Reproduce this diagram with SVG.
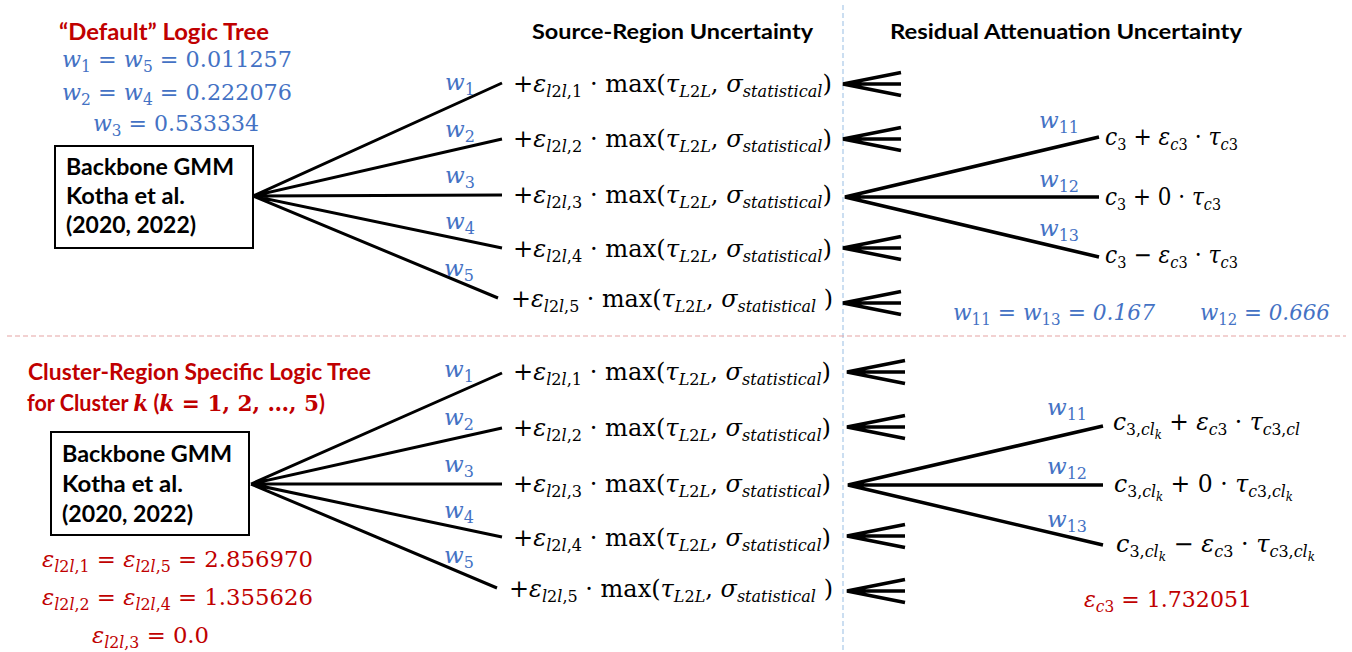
<svg xmlns="http://www.w3.org/2000/svg" width="1352" height="652" viewBox="0 0 1352 652">
<style>
.bg{fill:#fff}
.m{font-family:"DejaVu Serif","Liberation Serif",serif;font-size:24px;fill:#000}
.wb{font-family:"DejaVu Serif","Liberation Serif",serif;font-size:23px;fill:#4472C4}
.wl{font-family:"DejaVu Serif","Liberation Serif",serif;font-size:23px;fill:#4472C4}
.wr{font-family:"DejaVu Serif","Liberation Serif",serif;font-size:23px;fill:#C00000}
.i{font-style:italic}
.s{font-size:16px}
.ss{font-size:12px}
.h{font-family:Lato,"Open Sans","Liberation Sans",sans-serif;font-weight:700;font-size:21px;fill:#000}
.t{font-family:Lato,"Open Sans","Liberation Sans",sans-serif;font-weight:700;font-size:22px;fill:#C00000}
.bx{font-family:Lato,"Open Sans","Liberation Sans",sans-serif;font-weight:700;font-size:22px;fill:#000}
.box{fill:#fff;stroke:#000;stroke-width:2}
.br{stroke:#000;stroke-width:3;fill:none}
.fk{stroke:#000;stroke-width:3.5;fill:none;stroke-linejoin:miter}
.vd{stroke:#A9C8E8;stroke-width:1.2;stroke-dasharray:5 3}
.hd{stroke:#E6A3A3;stroke-width:1.2;stroke-dasharray:5 3}
.mb{font-family:"DejaVu Serif","Liberation Serif",serif;font-weight:700}
</style>
<defs>
<path id="fork" class="fk" d="M58,-11.5 L0,0 L58,11.5 M0,0 H58"/>
</defs>
<rect class="bg" x="0" y="0" width="1352" height="652"/>

<g id="separators">
<line class="vd" x1="843" y1="5" x2="843" y2="652"/>
<line class="hd" x1="7" y1="336" x2="1346" y2="336"/>
</g>

<g id="headers">
<text class="h" x="532" y="39" textLength="281" lengthAdjust="spacingAndGlyphs">Source-Region Uncertainty</text>
<text class="h" x="890" y="39" textLength="352" lengthAdjust="spacingAndGlyphs">Residual Attenuation Uncertainty</text>
</g>

<g id="connectors">
<path class="br" d="M253,196 L502,83 M253,196 L502,139 M253,196 L502,195 M253,196 L502,248 M253,196 L498,298"/>
<path class="br" d="M251,484 L502,373 M251,484 L502,428 M251,484 L502,484 M251,484 L502,537 M251,484 L497,588"/>
<use href="#fork" x="843" y="84"/>
<use href="#fork" x="843" y="139"/>
<use href="#fork" x="843" y="248"/>
<use href="#fork" x="843" y="303"/>
<use href="#fork" x="847" y="372"/>
<use href="#fork" x="847" y="427"/>
<use href="#fork" x="847" y="536"/>
<use href="#fork" x="847" y="591"/>
<path class="fk" d="M1099,137 L845,197 L1099,257 M845,197 H1099"/>
<path class="fk" d="M1103,426 L848,485 L1103,545 M848,485 H1103"/>
</g>

<g id="default-tree">
<text class="t" x="59" y="40" textLength="210" lengthAdjust="spacingAndGlyphs">“Default” Logic Tree</text>
<text class="wb" x="62" y="67" textLength="230" lengthAdjust="spacingAndGlyphs"><tspan class="i">w</tspan><tspan class="s" dy="5">1</tspan><tspan dy="-5"> = </tspan><tspan class="i">w</tspan><tspan class="s" dy="5">5</tspan><tspan dy="-5"> = 0.011257</tspan></text>
<text class="wb" x="62" y="100" textLength="230" lengthAdjust="spacingAndGlyphs"><tspan class="i">w</tspan><tspan class="s" dy="5">2</tspan><tspan dy="-5"> = </tspan><tspan class="i">w</tspan><tspan class="s" dy="5">4</tspan><tspan dy="-5"> = 0.222076</tspan></text>
<text class="wb" x="93" y="131" textLength="166" lengthAdjust="spacingAndGlyphs"><tspan class="i">w</tspan><tspan class="s" dy="5">3</tspan><tspan dy="-5"> = 0.533334</tspan></text>
</g>

<g id="backbone-default">
<rect class="box" x="55" y="146" width="198" height="102"/>
<text class="bx" x="66" y="175" textLength="168" lengthAdjust="spacingAndGlyphs">Backbone GMM</text>
<text class="bx" x="66" y="204" textLength="119" lengthAdjust="spacingAndGlyphs">Kotha et al.</text>
<text class="bx" x="66" y="233" textLength="130" lengthAdjust="spacingAndGlyphs">(2020, 2022)</text>
</g>

<g id="source-default">
<text class="wl i" x="445" y="90">w<tspan class="s" dy="5" font-style="normal">1</tspan></text>
<text class="wl i" x="445" y="137">w<tspan class="s" dy="5" font-style="normal">2</tspan></text>
<text class="wl i" x="445" y="183">w<tspan class="s" dy="5" font-style="normal">3</tspan></text>
<text class="wl i" x="445" y="229">w<tspan class="s" dy="5" font-style="normal">4</tspan></text>
<text class="wl i" x="444" y="276">w<tspan class="s" dy="5" font-style="normal">5</tspan></text>
<text class="m" x="513" y="92" textLength="319" lengthAdjust="spacingAndGlyphs">+<tspan class="i">ε</tspan><tspan class="s i" dy="5">l</tspan><tspan class="s">2</tspan><tspan class="s i">l</tspan><tspan class="s">,1</tspan><tspan dy="-5"> · max(</tspan><tspan class="i">τ</tspan><tspan class="s i" dy="5">L</tspan><tspan class="s">2</tspan><tspan class="s i">L</tspan><tspan dy="-5">, </tspan><tspan class="i">σ</tspan><tspan class="s i" dy="5">statistical</tspan><tspan dy="-5">)</tspan></text>
<text class="m" x="513" y="147" textLength="319" lengthAdjust="spacingAndGlyphs">+<tspan class="i">ε</tspan><tspan class="s i" dy="5">l</tspan><tspan class="s">2</tspan><tspan class="s i">l</tspan><tspan class="s">,2</tspan><tspan dy="-5"> · max(</tspan><tspan class="i">τ</tspan><tspan class="s i" dy="5">L</tspan><tspan class="s">2</tspan><tspan class="s i">L</tspan><tspan dy="-5">, </tspan><tspan class="i">σ</tspan><tspan class="s i" dy="5">statistical</tspan><tspan dy="-5">)</tspan></text>
<text class="m" x="513" y="203" textLength="319" lengthAdjust="spacingAndGlyphs">+<tspan class="i">ε</tspan><tspan class="s i" dy="5">l</tspan><tspan class="s">2</tspan><tspan class="s i">l</tspan><tspan class="s">,3</tspan><tspan dy="-5"> · max(</tspan><tspan class="i">τ</tspan><tspan class="s i" dy="5">L</tspan><tspan class="s">2</tspan><tspan class="s i">L</tspan><tspan dy="-5">, </tspan><tspan class="i">σ</tspan><tspan class="s i" dy="5">statistical</tspan><tspan dy="-5">)</tspan></text>
<text class="m" x="513" y="257" textLength="319" lengthAdjust="spacingAndGlyphs">+<tspan class="i">ε</tspan><tspan class="s i" dy="5">l</tspan><tspan class="s">2</tspan><tspan class="s i">l</tspan><tspan class="s">,4</tspan><tspan dy="-5"> · max(</tspan><tspan class="i">τ</tspan><tspan class="s i" dy="5">L</tspan><tspan class="s">2</tspan><tspan class="s i">L</tspan><tspan dy="-5">, </tspan><tspan class="i">σ</tspan><tspan class="s i" dy="5">statistical</tspan><tspan dy="-5">)</tspan></text>
<text class="m" x="511" y="307" textLength="322" lengthAdjust="spacingAndGlyphs">+<tspan class="i">ε</tspan><tspan class="s i" dy="5">l</tspan><tspan class="s">2</tspan><tspan class="s i">l</tspan><tspan class="s">,5</tspan><tspan dy="-5"> · max(</tspan><tspan class="i">τ</tspan><tspan class="s i" dy="5">L</tspan><tspan class="s">2</tspan><tspan class="s i">L</tspan><tspan dy="-5">, </tspan><tspan class="i">σ</tspan><tspan class="s i" dy="5">statistical</tspan><tspan dy="-5"> )</tspan></text>
</g>

<g id="residual-default">
<text class="wl i" x="1039" y="128">w<tspan class="s" dy="5" font-style="normal">11</tspan></text>
<text class="wl i" x="1039" y="187">w<tspan class="s" dy="5" font-style="normal">12</tspan></text>
<text class="wl i" x="1039" y="236">w<tspan class="s" dy="5" font-style="normal">13</tspan></text>
<text class="m" x="1105" y="145" textLength="133" lengthAdjust="spacingAndGlyphs"><tspan class="i">c</tspan><tspan class="s" dy="5">3</tspan><tspan dy="-5"> + </tspan><tspan class="i">ε</tspan><tspan class="s i" dy="5">c</tspan><tspan class="s">3</tspan><tspan dy="-5"> · </tspan><tspan class="i">τ</tspan><tspan class="s i" dy="5">c</tspan><tspan class="s">3</tspan></text>
<text class="m" x="1105" y="205" textLength="116" lengthAdjust="spacingAndGlyphs"><tspan class="i">c</tspan><tspan class="s" dy="5">3</tspan><tspan dy="-5"> + 0 · </tspan><tspan class="i">τ</tspan><tspan class="s i" dy="5">c</tspan><tspan class="s">3</tspan></text>
<text class="m" x="1105" y="263" textLength="133" lengthAdjust="spacingAndGlyphs"><tspan class="i">c</tspan><tspan class="s" dy="5">3</tspan><tspan dy="-5"> − </tspan><tspan class="i">ε</tspan><tspan class="s i" dy="5">c</tspan><tspan class="s">3</tspan><tspan dy="-5"> · </tspan><tspan class="i">τ</tspan><tspan class="s i" dy="5">c</tspan><tspan class="s">3</tspan></text>
<text class="wb" x="953" y="320" textLength="202" lengthAdjust="spacingAndGlyphs"><tspan class="i">w</tspan><tspan class="s" dy="5">11</tspan><tspan dy="-5"> = </tspan><tspan class="i">w</tspan><tspan class="s" dy="5">13</tspan><tspan dy="-5"> = </tspan><tspan class="i">0.167</tspan></text>
<text class="wb" x="1200" y="320" textLength="130" lengthAdjust="spacingAndGlyphs"><tspan class="i">w</tspan><tspan class="s" dy="5">12</tspan><tspan dy="-5"> = </tspan><tspan class="i">0.666</tspan></text>
</g>

<g id="cluster-tree">
<text class="t" x="28" y="380" textLength="343" lengthAdjust="spacingAndGlyphs">Cluster-Region Specific Logic Tree</text>
<text class="t" x="27" y="411" textLength="298" lengthAdjust="spacingAndGlyphs">for Cluster <tspan class="mb i">k</tspan> (<tspan class="mb i">k</tspan><tspan class="mb"> = 1, 2, …, 5</tspan>)</text>
</g>

<g id="backbone-cluster">
<rect class="box" x="51" y="432" width="198" height="103"/>
<text class="bx" x="62" y="462" textLength="170" lengthAdjust="spacingAndGlyphs">Backbone GMM</text>
<text class="bx" x="62" y="492" textLength="121" lengthAdjust="spacingAndGlyphs">Kotha et al.</text>
<text class="bx" x="62" y="522" textLength="131" lengthAdjust="spacingAndGlyphs">(2020, 2022)</text>
</g>

<g id="epsilon-values">
<text class="wr" x="42" y="567" textLength="271" lengthAdjust="spacingAndGlyphs"><tspan class="i">ε</tspan><tspan class="s i" dy="5">l</tspan><tspan class="s">2</tspan><tspan class="s i">l</tspan><tspan class="s">,1</tspan><tspan dy="-5"> = </tspan><tspan class="i">ε</tspan><tspan class="s i" dy="5">l</tspan><tspan class="s">2</tspan><tspan class="s i">l</tspan><tspan class="s">,5</tspan><tspan dy="-5"> = 2.856970</tspan></text>
<text class="wr" x="42" y="605" textLength="271" lengthAdjust="spacingAndGlyphs"><tspan class="i">ε</tspan><tspan class="s i" dy="5">l</tspan><tspan class="s">2</tspan><tspan class="s i">l</tspan><tspan class="s">,2</tspan><tspan dy="-5"> = </tspan><tspan class="i">ε</tspan><tspan class="s i" dy="5">l</tspan><tspan class="s">2</tspan><tspan class="s i">l</tspan><tspan class="s">,4</tspan><tspan dy="-5"> = 1.355626</tspan></text>
<text class="wr" x="92" y="643" textLength="117" lengthAdjust="spacingAndGlyphs"><tspan class="i">ε</tspan><tspan class="s i" dy="5">l</tspan><tspan class="s">2</tspan><tspan class="s i">l</tspan><tspan class="s">,3</tspan><tspan dy="-5"> = 0.0</tspan></text>
</g>

<g id="source-cluster">
<text class="wl i" x="444" y="377">w<tspan class="s" dy="5" font-style="normal">1</tspan></text>
<text class="wl i" x="444" y="425">w<tspan class="s" dy="5" font-style="normal">2</tspan></text>
<text class="wl i" x="444" y="472">w<tspan class="s" dy="5" font-style="normal">3</tspan></text>
<text class="wl i" x="444" y="518">w<tspan class="s" dy="5" font-style="normal">4</tspan></text>
<text class="wl i" x="444" y="563">w<tspan class="s" dy="5" font-style="normal">5</tspan></text>
<text class="m" x="513" y="380" textLength="318" lengthAdjust="spacingAndGlyphs">+<tspan class="i">ε</tspan><tspan class="s i" dy="5">l</tspan><tspan class="s">2</tspan><tspan class="s i">l</tspan><tspan class="s">,1</tspan><tspan dy="-5"> · max(</tspan><tspan class="i">τ</tspan><tspan class="s i" dy="5">L</tspan><tspan class="s">2</tspan><tspan class="s i">L</tspan><tspan dy="-5">, </tspan><tspan class="i">σ</tspan><tspan class="s i" dy="5">statistical</tspan><tspan dy="-5">)</tspan></text>
<text class="m" x="513" y="436" textLength="318" lengthAdjust="spacingAndGlyphs">+<tspan class="i">ε</tspan><tspan class="s i" dy="5">l</tspan><tspan class="s">2</tspan><tspan class="s i">l</tspan><tspan class="s">,2</tspan><tspan dy="-5"> · max(</tspan><tspan class="i">τ</tspan><tspan class="s i" dy="5">L</tspan><tspan class="s">2</tspan><tspan class="s i">L</tspan><tspan dy="-5">, </tspan><tspan class="i">σ</tspan><tspan class="s i" dy="5">statistical</tspan><tspan dy="-5">)</tspan></text>
<text class="m" x="513" y="492" textLength="318" lengthAdjust="spacingAndGlyphs">+<tspan class="i">ε</tspan><tspan class="s i" dy="5">l</tspan><tspan class="s">2</tspan><tspan class="s i">l</tspan><tspan class="s">,3</tspan><tspan dy="-5"> · max(</tspan><tspan class="i">τ</tspan><tspan class="s i" dy="5">L</tspan><tspan class="s">2</tspan><tspan class="s i">L</tspan><tspan dy="-5">, </tspan><tspan class="i">σ</tspan><tspan class="s i" dy="5">statistical</tspan><tspan dy="-5">)</tspan></text>
<text class="m" x="513" y="546" textLength="318" lengthAdjust="spacingAndGlyphs">+<tspan class="i">ε</tspan><tspan class="s i" dy="5">l</tspan><tspan class="s">2</tspan><tspan class="s i">l</tspan><tspan class="s">,4</tspan><tspan dy="-5"> · max(</tspan><tspan class="i">τ</tspan><tspan class="s i" dy="5">L</tspan><tspan class="s">2</tspan><tspan class="s i">L</tspan><tspan dy="-5">, </tspan><tspan class="i">σ</tspan><tspan class="s i" dy="5">statistical</tspan><tspan dy="-5">)</tspan></text>
<text class="m" x="509" y="597" textLength="324" lengthAdjust="spacingAndGlyphs">+<tspan class="i">ε</tspan><tspan class="s i" dy="5">l</tspan><tspan class="s">2</tspan><tspan class="s i">l</tspan><tspan class="s">,5</tspan><tspan dy="-5"> · max(</tspan><tspan class="i">τ</tspan><tspan class="s i" dy="5">L</tspan><tspan class="s">2</tspan><tspan class="s i">L</tspan><tspan dy="-5">, </tspan><tspan class="i">σ</tspan><tspan class="s i" dy="5">statistical</tspan><tspan dy="-5"> )</tspan></text>
</g>

<g id="residual-cluster">
<text class="wl i" x="1047" y="415">w<tspan class="s" dy="5" font-style="normal">11</tspan></text>
<text class="wl i" x="1047" y="474">w<tspan class="s" dy="5" font-style="normal">12</tspan></text>
<text class="wl i" x="1047" y="527">w<tspan class="s" dy="5" font-style="normal">13</tspan></text>
<text class="m" x="1113" y="430" textLength="187" lengthAdjust="spacingAndGlyphs"><tspan class="i">c</tspan><tspan class="s" dy="5">3,</tspan><tspan class="s i">cl</tspan><tspan class="ss i" dy="4">k</tspan><tspan dy="-9"> + </tspan><tspan class="i">ε</tspan><tspan class="s i" dy="5">c</tspan><tspan class="s">3</tspan><tspan dy="-5"> · </tspan><tspan class="i">τ</tspan><tspan class="s i" dy="5">c</tspan><tspan class="s">3,</tspan><tspan class="s i">cl</tspan></text>
<text class="m" x="1114" y="492" textLength="179" lengthAdjust="spacingAndGlyphs"><tspan class="i">c</tspan><tspan class="s" dy="5">3,</tspan><tspan class="s i">cl</tspan><tspan class="ss i" dy="4">k</tspan><tspan dy="-9"> + 0 · </tspan><tspan class="i">τ</tspan><tspan class="s i" dy="5">c</tspan><tspan class="s">3,</tspan><tspan class="s i">cl</tspan><tspan class="ss i" dy="4">k</tspan></text>
<text class="m" x="1116" y="552" textLength="199" lengthAdjust="spacingAndGlyphs"><tspan class="i">c</tspan><tspan class="s" dy="5">3,</tspan><tspan class="s i">cl</tspan><tspan class="ss i" dy="4">k</tspan><tspan dy="-9"> − </tspan><tspan class="i">ε</tspan><tspan class="s i" dy="5">c</tspan><tspan class="s">3</tspan><tspan dy="-5"> · </tspan><tspan class="i">τ</tspan><tspan class="s i" dy="5">c</tspan><tspan class="s">3,</tspan><tspan class="s i">cl</tspan><tspan class="ss i" dy="4">k</tspan></text>
<text class="wr" x="1084" y="607" textLength="168" lengthAdjust="spacingAndGlyphs"><tspan class="i">ε</tspan><tspan class="s i" dy="5">c</tspan><tspan class="s">3</tspan><tspan dy="-5"> = 1.732051</tspan></text>
</g>
</svg>
